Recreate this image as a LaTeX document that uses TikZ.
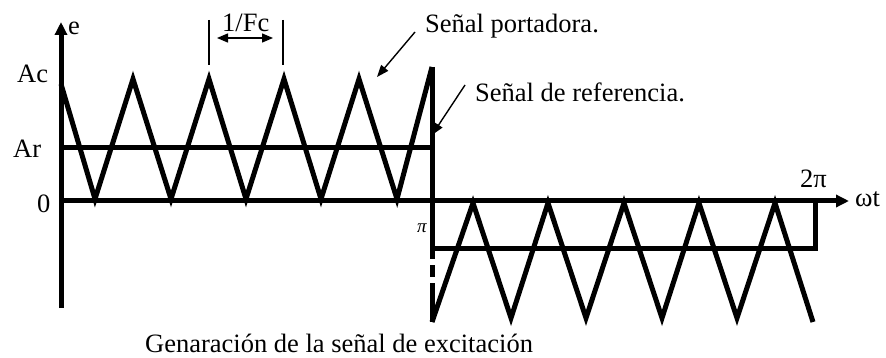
\documentclass[tikz,border=0pt]{standalone}
\usepackage{fontspec}
\setmainfont{Liberation Serif}
\definecolor{ink}{RGB}{0, 0, 0}
\usetikzlibrary{arrows.meta, positioning, calc}
\tikzset{
	axisline/.style={line width=5pt, draw=ink},
	axisarrow/.style={line width=5pt, draw=ink, -{Triangle[length=13pt, width=12pt]}},
	wave/.style={line width=5pt, draw=ink, line join=miter, miter limit=12},
	refline/.style={line width=5pt, draw=ink},
	tickline/.style={line width=1.4pt, draw=ink},
	pointer/.style={-{Triangle[length=12pt, width=9pt]}, line width=1.4pt, draw=ink},
	period/.style={{Triangle[length=11pt, width=9pt]}-{Triangle[length=11pt, width=9pt]}, line width=1.4pt, draw=ink},
	lbl/.style={font=\fontsize{26.5}{30}\selectfont, inner sep=0pt, anchor=base west},
	pilbl/.style={font=\fontsize{19}{21}\selectfont\itshape, inner sep=0pt, anchor=base west},
}

\begin{document}
\begin{tikzpicture}[x=1pt, y=-1pt]
	\useasboundingbox (0,0) rectangle (886,358);
	% axes
	\draw[axisarrow] (61,308) -- (61,22);
	\draw[axisarrow] (61,201) -- (849,201);
	% carrier
	\draw[wave] (61,84) -- (95,199) -- (133,79) -- (171,199) -- (209,79) -- (246,199) -- (284,79) -- (321,199) -- (359,79) -- (397,199) -- (432,67);
	\draw[wave] (432,322) -- (473,203) -- (511,318) -- (548,203) -- (586,318) -- (624,203) -- (662,318) -- (699,203) -- (737,318) -- (775,203) -- (813,322);
	% reference
	\draw[refline] (61,148) -- (432,148);
	\draw[refline] (432,248) -- (815,248) -- (815,201);
	\draw[axisline] (432,67) -- (432,259);
	\draw[axisline] (432,265) -- (432,277);
	\draw[axisline] (432,283) -- (432,322);
	% period
	\draw[tickline] (209,20) -- (209,65);
	\draw[tickline] (283,20) -- (283,65);
	\draw[period] (217,38) -- (273,38);
	% labels
	\node[lbl] (e) at (68,35) {e};
	\node[lbl] (ac) at (17,83) {Ac};
	\node[lbl] (ar) at (13,158) {Ar};
	\node[lbl] (zero) at (37,213) {0};
	\node[pilbl] (pi) at (417,233) {π};
	\node[lbl] (twopi) at (800,188) {2π};
	\node[lbl] (wt) at (855,207) {ωt};
	\node[lbl] (fc) at (222,32) {1/Fc};
	\node[lbl] (carrier) at (425,33) {Señal portadora.};
	\node[lbl] (refsig) at (475,102) {Señal de referencia.};
	\node[lbl] (caption) at (145,352) {Genaración de la señal de excitación};
	\coordinate (cartip) at (377,77);
	\coordinate (reftip) at (432,135);
	\draw[pointer] ($(carrier.base west)+(-10,-1)$) -- (cartip);
	\draw[pointer] ($(refsig.base west)+(-10,-17)$) -- (reftip);
\end{tikzpicture}
\end{document}
